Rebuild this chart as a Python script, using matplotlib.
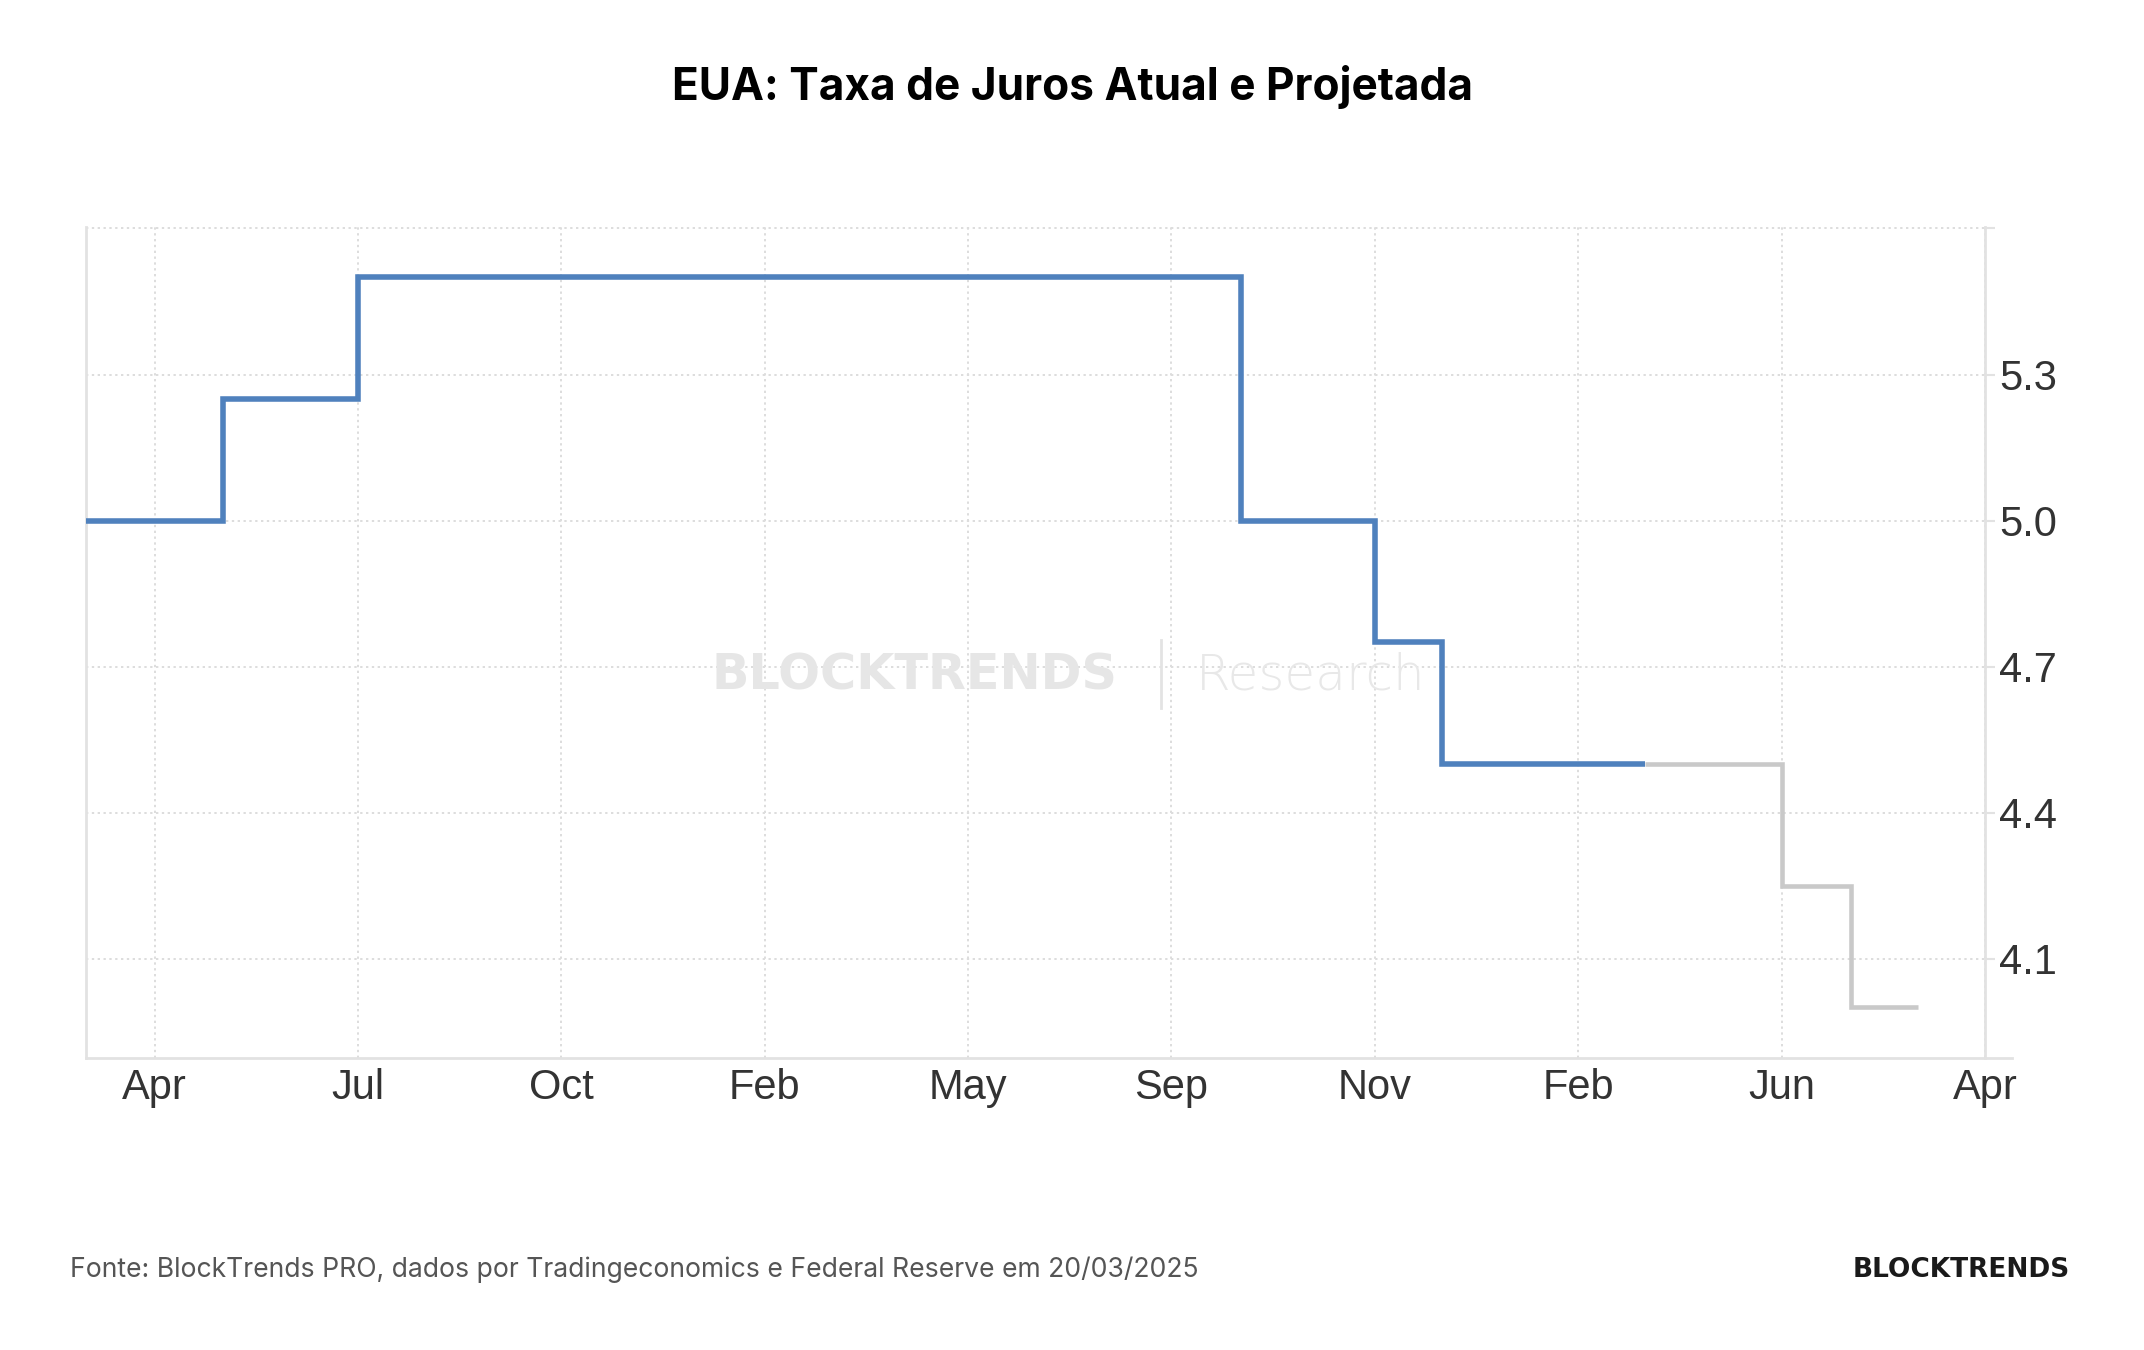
import matplotlib
matplotlib.use("Agg")
import matplotlib.pyplot as plt
from matplotlib.lines import Line2D

# ---- data (x in tick-index units, rates in %) ----
tick_labels = ["Apr", "Jul", "Oct", "Feb", "May", "Sep", "Nov", "Feb", "Jun", "Apr"]
actual_x = [-0.337, 0.337, 1.0, 5.34, 6.0, 6.33, 7.33]
actual_rate = [5.0, 5.25, 5.5, 5.0, 4.75, 4.5, 4.5]
proj_x = [7.33, 8.0, 8.34, 8.67]
proj_rate = [4.5, 4.25, 4.0, 4.0]
ytick_vals = [4.1, 4.4, 4.7, 5.0, 5.3, 5.6]
ytick_text = ["4.1", "4.4", "4.7", "5.0", "5.3", ""]

title = "EUA: Taxa de Juros Atual e Projetada"
source = "Fonte: BlockTrends PRO, dados por Tradingeconomics e Federal Reserve em 20/03/2025"

W, H, DPI = 2144, 1350, 100
fig = plt.figure(figsize=(W / DPI, H / DPI), dpi=DPI)
fig.patch.set_facecolor("white")

left, right, top, bottom = 86, 1985, 227, 1058
ax = fig.add_axes([left / W, 1 - bottom / H, (right - left) / W, (bottom - top) / H])

grid_c = "#dddddd"
spine_c = "#e2e2e2"

ax.set_xlim(-0.337, 9.0)
ax.set_ylim(3.896, 5.603)

ax.set_xticks(range(len(tick_labels)))
ax.set_xticklabels(tick_labels)
ax.set_yticks(ytick_vals)
ax.set_yticklabels(ytick_text)
ax.yaxis.tick_right()

ax.grid(True, color=grid_c, linestyle=(0, (1.2, 1.8)), linewidth=1.4)
ax.set_axisbelow(True)

ax.spines["top"].set_visible(False)
for s in ["left", "right", "bottom"]:
    ax.spines[s].set_color(spine_c)
    ax.spines[s].set_linewidth(2)

ax.tick_params(axis="y", which="both", right=True, length=7, width=1.5, color=spine_c,
               labelsize=30, labelcolor="#333333", pad=3)
ax.tick_params(axis="x", which="both", bottom=False, labelsize=30, labelcolor="#333333", pad=4)
for lab in ax.get_xticklabels() + ax.get_yticklabels():
    lab.set_fontfamily("Liberation Sans")

# lines
ax.plot(proj_x, proj_rate, drawstyle="steps-post", color="#c9c9c9", linewidth=3.3,
        solid_joinstyle="miter", solid_capstyle="butt", zorder=3)
ax.plot(actual_x, actual_rate, drawstyle="steps-post", color="#4f81bd", linewidth=4.0,
        solid_joinstyle="miter", solid_capstyle="butt", zorder=4, clip_on=False)

# bottom axis extension past right spine
ax.add_line(Line2D([1.0, 1.014], [0, 0], transform=ax.transAxes, color=spine_c,
                   linewidth=2, clip_on=False))

# watermark
fig.text(712 / W, 1 - 676 / H, "BLOCKTRENDS", ha="left", va="center", fontsize=35.5,
         fontfamily="DejaVu Sans", fontweight="bold", color="#e6e6e6", zorder=0)
fig.add_artist(Line2D([1161 / W, 1161 / W], [1 - 640 / H, 1 - 708 / H], transform=fig.transFigure,
                      color="#e3e3e3", linewidth=2))
fig.text(1196 / W, 1 - 676 / H, "Research", ha="left", va="center", fontsize=36,
         fontfamily="DejaVu Sans", fontweight="light", color="#e8e8e8", zorder=0)

# title
fig.text(0.5, 1 - 87 / H, title, ha="center", va="center", fontsize=31.8,
         fontfamily="Inter", fontweight="bold", color="#000000")

# footer
fig.text(70 / W, 1 - 1270 / H, source, ha="left", va="center", fontsize=19.1,
         fontfamily="Inter", color="#555555")
fig.text(2070 / W, 1 - 1270 / H, "BLOCKTRENDS", ha="right", va="center", fontsize=19,
         fontfamily="DejaVu Sans", fontweight="bold", color="#1a1a1a")

fig.savefig("out.png", dpi=DPI, facecolor="white")
